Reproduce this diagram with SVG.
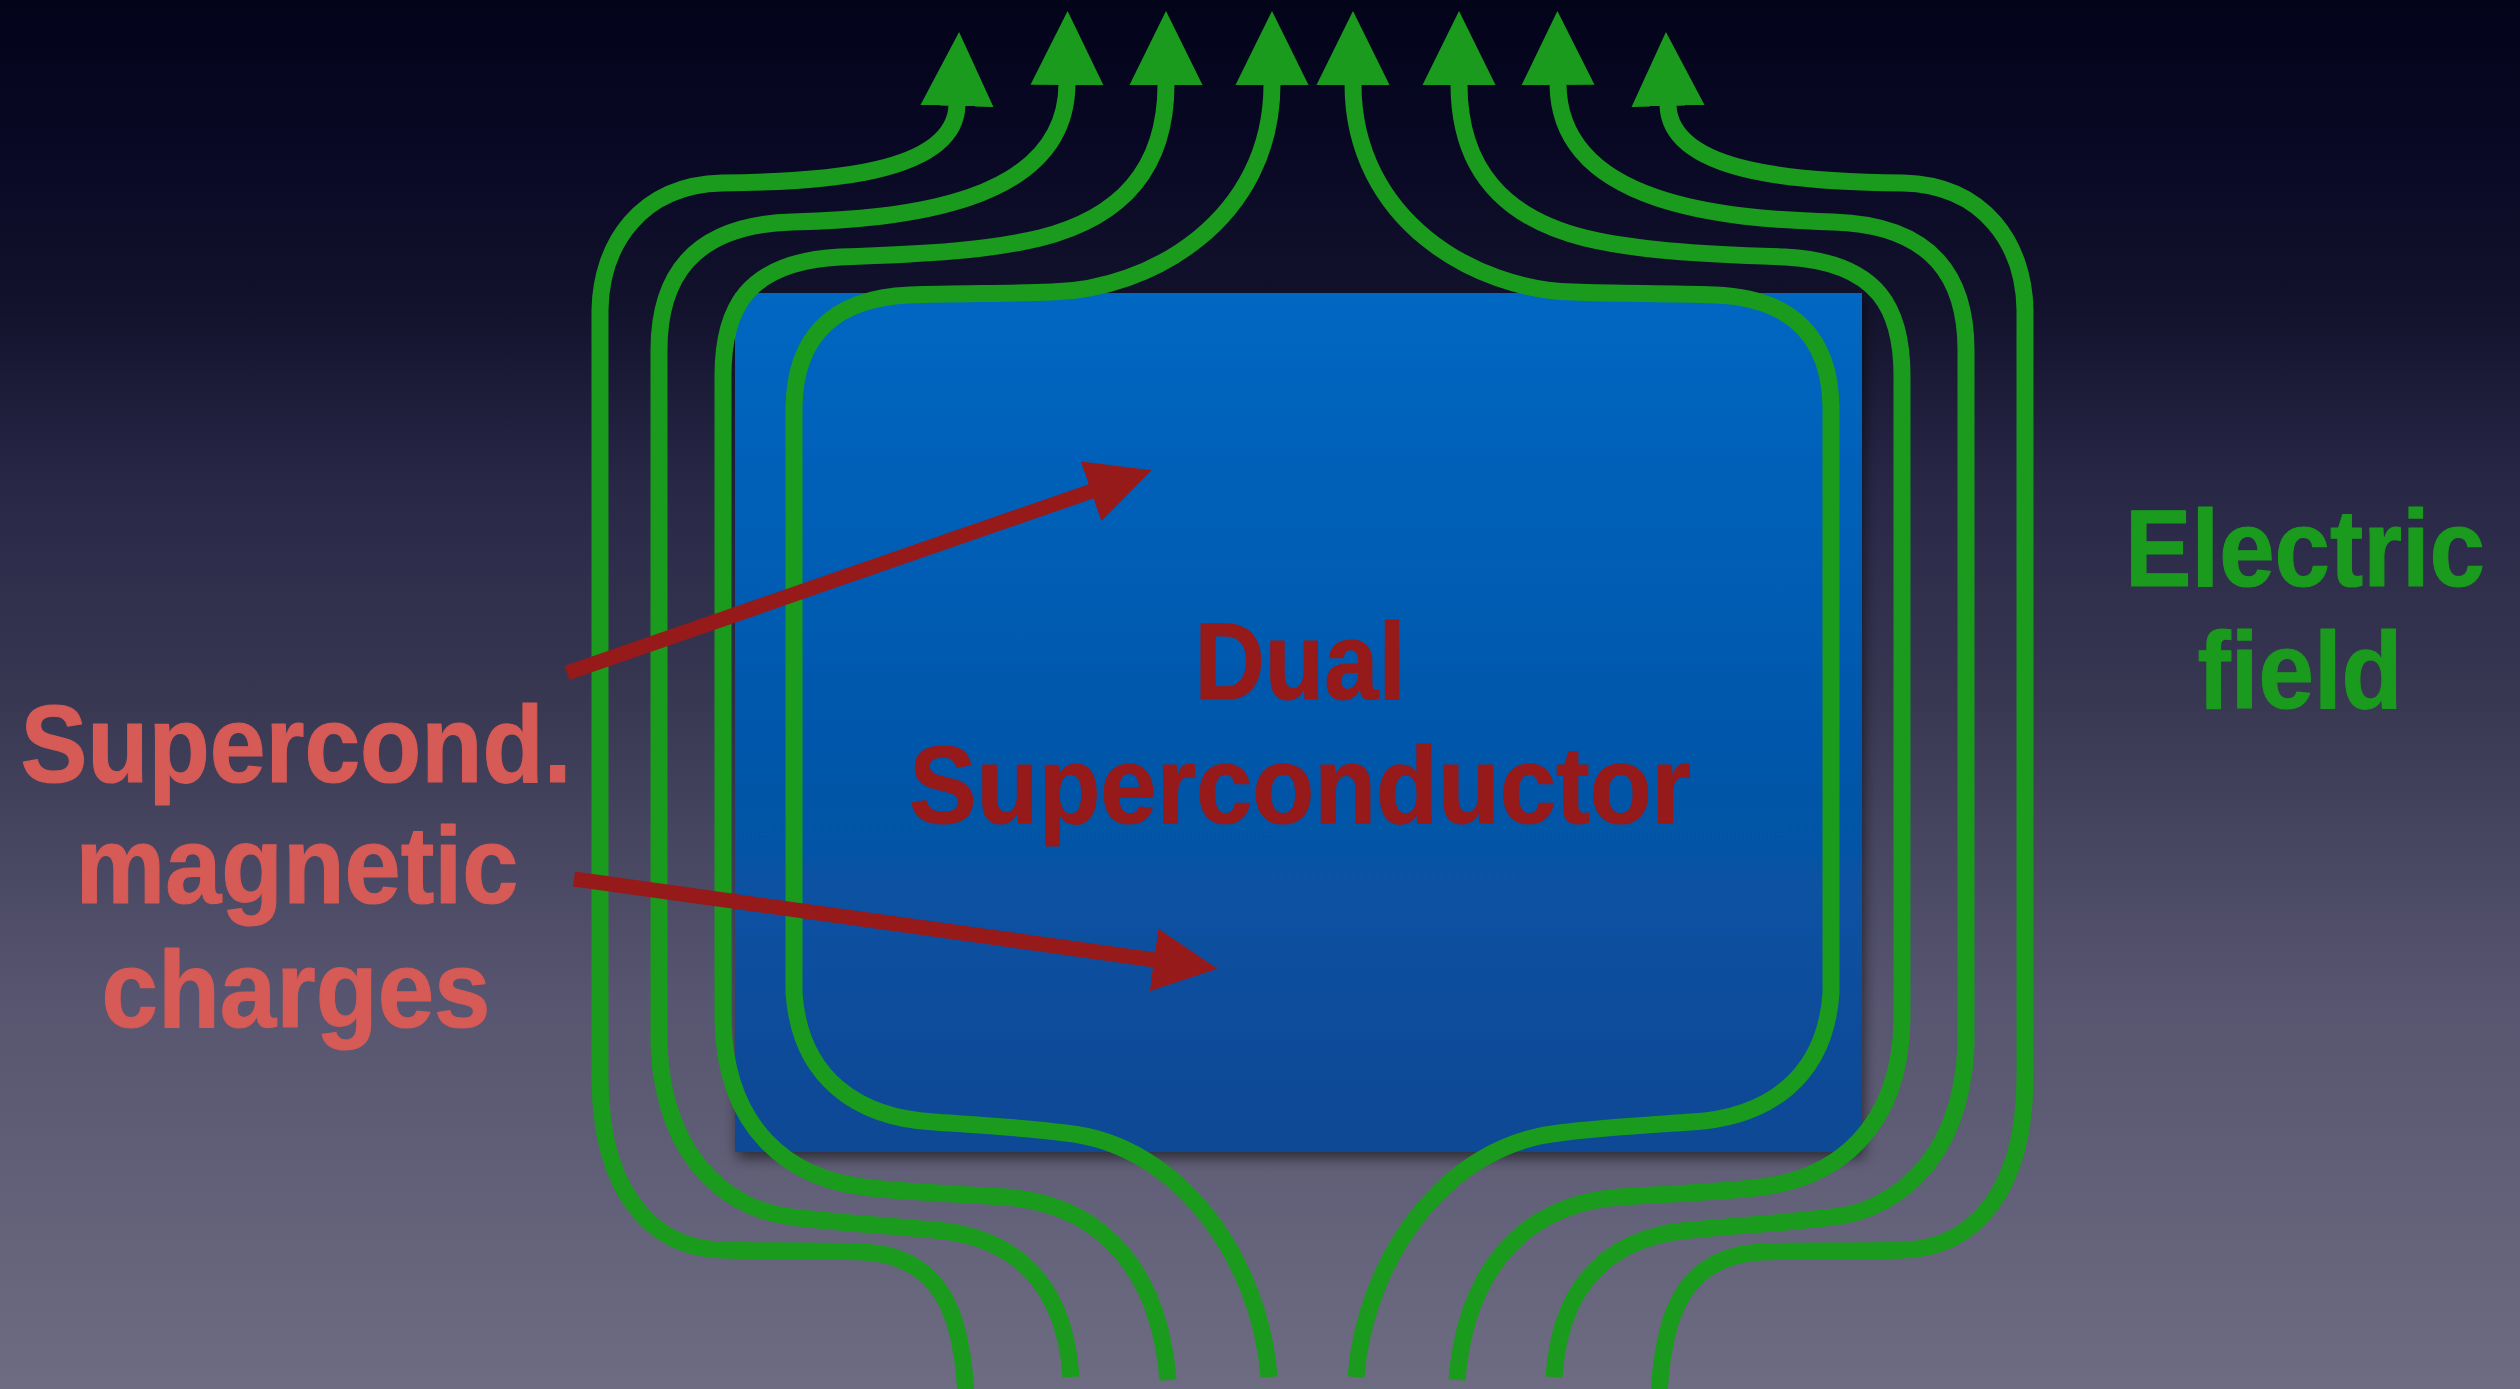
<svg xmlns="http://www.w3.org/2000/svg" width="2520" height="1389" viewBox="0 0 2520 1389">
<defs>
<linearGradient id="bg" x1="0" y1="0" x2="0" y2="1">
<stop offset="0" stop-color="#03031A"/>
<stop offset="0.1" stop-color="#080824"/>
<stop offset="0.22" stop-color="#12122D"/>
<stop offset="0.35" stop-color="#282746"/>
<stop offset="0.5" stop-color="#383752"/>
<stop offset="0.72" stop-color="#57556F"/>
<stop offset="1" stop-color="#6E6C82"/>
</linearGradient>
<linearGradient id="boxg" x1="0" y1="0" x2="0" y2="1">
<stop offset="0" stop-color="#0067C2"/>
<stop offset="1" stop-color="#0A4894"/>
</linearGradient>
<filter id="sh" x="-5%" y="-5%" width="112%" height="115%">
<feDropShadow dx="2" dy="6" stdDeviation="7" flood-color="#000" flood-opacity="0.55"/>
</filter>
<marker id="ga" markerUnits="userSpaceOnUse" viewBox="-1 -37 75 74" markerWidth="75" markerHeight="74" refX="0" refY="0" orient="auto">
<path d="M-1,-36.5 L73,0 L-1,36.5 z" fill="#1A9B1E"/>
</marker>
<marker id="ra" markerUnits="userSpaceOnUse" viewBox="-1 -32 65 64" markerWidth="65" markerHeight="64" refX="0" refY="0" orient="auto">
<path d="M-1,-31.5 L63,0 L-1,31.5 z" fill="#961A1A"/>
</marker>
</defs>
<style>
.fl{fill:none;stroke:#1A9B1E;stroke-width:17;stroke-linecap:butt;stroke-linejoin:round;marker-end:url(#ga)}
.ra{fill:none;stroke:#961A1A;stroke-width:15;stroke-linecap:butt;marker-end:url(#ra)}
.t{font-family:"Liberation Sans",Arial,sans-serif;font-weight:bold;font-size:110px;text-anchor:middle;stroke-width:1.2;stroke-linejoin:round}
.lbl{fill:#D65A55;stroke:#D65A55}
.dual{fill:#961A1A;stroke:#961A1A}
.ef{fill:#1A9B1E;stroke:#1A9B1E}
</style>
<rect width="2520" height="1389" fill="url(#bg)"/>
<g id="dual-superconductor">
<rect x="735" y="293" width="1127" height="859" fill="url(#boxg)" filter="url(#sh)"/>
</g>
<g id="field-lines">
<path id="l1" class="fl" d="M966,1395 C962,1320 945,1256 863,1252 C820,1250 770,1252 722,1250 C650,1248 601,1190 600,1080 L600,310 C601,245 640,185 722,183 C820,182 955,175 957,105"/>
<path id="l2" class="fl" d="M1071,1377 C1066,1300 1030,1238 934,1230 C890,1226 830,1222 792,1217 C740,1212 665,1170 659,1047 L659,350 C659,280 690,225 792,222 C900,219 1066,205 1067,84"/>
<path id="l3" class="fl" d="M1168,1380 C1160,1280 1110,1205 1005,1197 C960,1194 900,1192 863,1187 C790,1178 725,1130 723,1020 L723,380 C722,310 745,262 840,257 C930,254 990,250 1040,238 C1120,218 1166,170 1166,84"/>
<path id="l4" class="fl" d="M1269,1377 C1260,1260 1180,1145 1066,1133 C1020,1127 960,1124 934,1122 C860,1118 800,1080 794,993 L794,407 C795,340 830,298 910,295 C960,293 1000,294 1052,292 C1150,290 1272,220 1272,84"/>
<g transform="matrix(-1 0 0 1 2625 0)">
<path id="l5" class="fl" d="M1269,1377 C1260,1260 1180,1145 1066,1133 C1020,1127 960,1124 934,1122 C860,1118 800,1080 794,993 L794,407 C795,340 830,298 910,295 C960,293 1000,294 1052,292 C1150,290 1272,220 1272,84"/>
<path id="l6" class="fl" d="M1168,1380 C1160,1280 1110,1205 1005,1197 C960,1194 900,1192 863,1187 C790,1178 725,1130 723,1020 L723,380 C722,310 745,262 840,257 C930,254 990,250 1040,238 C1120,218 1166,170 1166,84"/>
<path id="l7" class="fl" d="M1071,1377 C1066,1300 1030,1238 934,1230 C890,1226 830,1222 792,1217 C740,1212 665,1170 659,1047 L659,350 C659,280 690,225 792,222 C900,219 1066,205 1067,84"/>
<path id="l8" class="fl" d="M966,1395 C962,1320 945,1256 863,1252 C820,1250 770,1252 722,1250 C650,1248 601,1190 600,1080 L600,310 C601,245 640,185 722,183 C820,182 955,175 957,105"/>
</g>
</g>
<g id="pointer-arrows">
<path class="ra" d="M567,673 L1092,491"/>
<path class="ra" d="M574,879 L1155,960"/>
</g>
<g id="label-dual">
<text class="t dual" x="1300" y="699" textLength="211" lengthAdjust="spacingAndGlyphs">Dual</text>
<text class="t dual" x="1300" y="823" textLength="782" lengthAdjust="spacingAndGlyphs">Superconductor</text>
</g>
<g id="label-charges">
<text class="t lbl" x="296" y="782" textLength="551" lengthAdjust="spacingAndGlyphs">Supercond.</text>
<text class="t lbl" x="297" y="903" textLength="443" lengthAdjust="spacingAndGlyphs">magnetic</text>
<text class="t lbl" x="296" y="1027" textLength="389" lengthAdjust="spacingAndGlyphs">charges</text>
</g>
<g id="label-field">
<text class="t ef" x="2305" y="586" textLength="360" lengthAdjust="spacingAndGlyphs">Electric</text>
<text class="t ef" x="2300" y="708" textLength="205" lengthAdjust="spacingAndGlyphs">field</text>
</g>
</svg>
